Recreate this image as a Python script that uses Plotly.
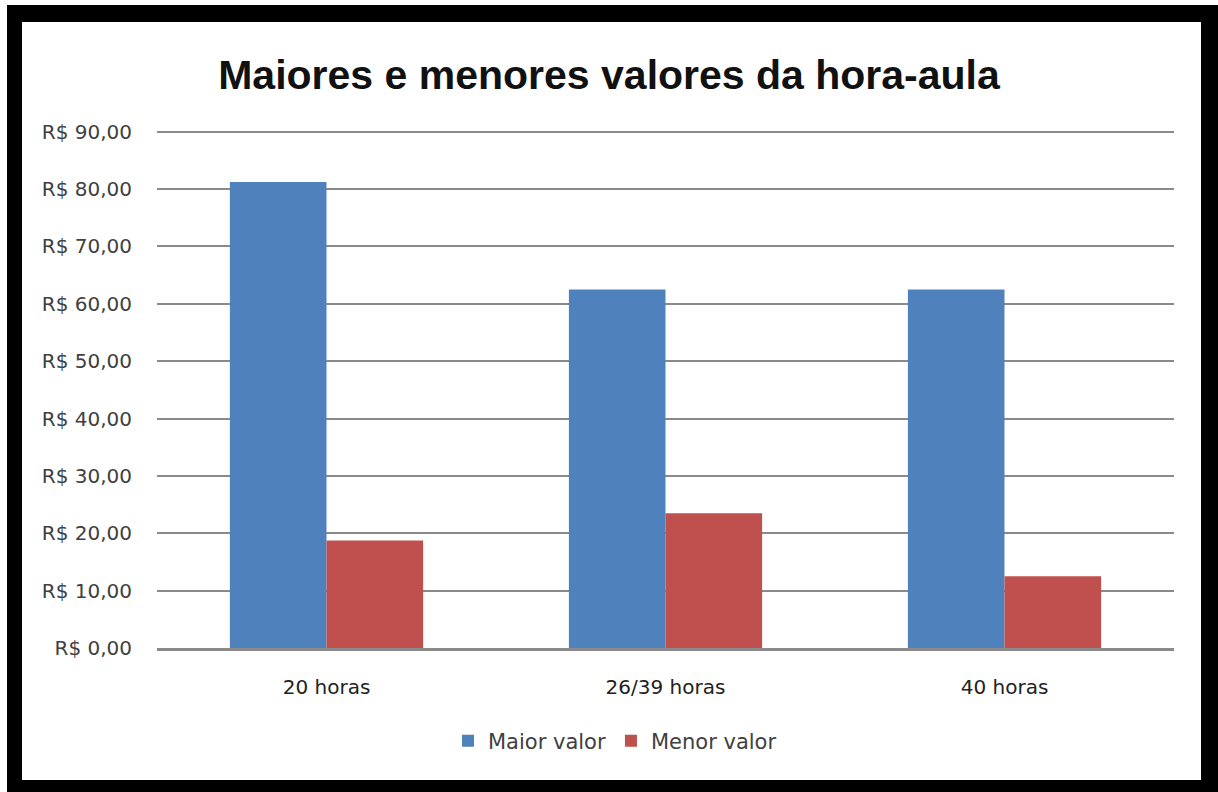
"""
Maiores e menores valores da hora-aula — barras agrupadas, estilo Excel.
"""

import plotly.graph_objects as go

categorias = ["20 horas", "26/39 horas", "40 horas"]
maior_valor = [81.25, 62.50, 62.50]
menor_valor = [18.75, 23.50, 12.50]
y_ticks = [0, 10, 20, 30, 40, 50, 60, 70, 80, 90]
y_ticktext = ["R$ 0,00", "R$ 10,00", "R$ 20,00", "R$ 30,00", "R$ 40,00",
              "R$ 50,00", "R$ 60,00", "R$ 70,00", "R$ 80,00", "R$ 90,00"]

W, H = 1218, 792
L, R, T, B = 157, 44, 126, 144


def px_x(v):
    return (v - L) / (W - L - R)


def px_y(v):
    return (H - B - v) / (H - T - B)


fig = go.Figure()
fig.add_trace(go.Bar(x=categorias, y=maior_valor, name="Maior valor",
                     marker=dict(color="#4F81BD", line=dict(width=0))))
fig.add_trace(go.Bar(x=categorias, y=menor_valor, name="Menor valor",
                     marker=dict(color="#C0504D", line=dict(width=0))))

fig.update_layout(
    width=W,
    height=H,
    margin=dict(l=L, r=R, t=T, b=B),
    barmode="group",
    bargap=0.43,
    bargroupgap=0,
    paper_bgcolor="white",
    plot_bgcolor="rgba(0,0,0,0)",
    font=dict(family="DejaVu Sans, sans-serif", color="#404040", size=20),
    title=dict(
        text="<b>Maiores e menores valores da hora-aula</b>",
        x=0.5, xref="container", xanchor="center",
        y=1 - 75 / H, yanchor="middle",
        font=dict(family="Liberation Sans, Arial, sans-serif", size=41, color="#111111"),
    ),
    legend=dict(
        orientation="h",
        x=px_x(615), xanchor="center",
        y=px_y(741), yanchor="middle",
        font=dict(size=21, color="#404040"),
        bgcolor="rgba(0,0,0,0)",
    ),
    shapes=[
        dict(type="rect", xref="paper", yref="paper", layer="below",
             x0=px_x(7), x1=px_x(1218), y0=px_y(792), y1=px_y(5),
             fillcolor="black", line=dict(width=0)),
        dict(type="rect", xref="paper", yref="paper", layer="below",
             x0=px_x(22), x1=px_x(1201), y0=px_y(780), y1=px_y(22),
             fillcolor="white", line=dict(width=0)),
    ],
)

fig.update_yaxes(
    range=[0, 91],
    tickvals=y_ticks,
    ticktext=y_ticktext,
    showgrid=True,
    gridcolor="#8a8a8a",
    gridwidth=1.5,
    zeroline=False,
    showline=False,
    ticks="",
    ticklabelstandoff=24,
    tickfont=dict(size=20, color="#404040"),
)
fig.update_xaxes(
    showline=True,
    linecolor="#8a8a8a",
    linewidth=3,
    ticks="",
    ticklabelstandoff=19,
    tickfont=dict(size=20, color="#222222"),
)

# page body has an 8px default margin; drop it so the figure sits at (0, 0)
fig.write_html(
    "out.html",
    config={"displayModeBar": False},
    post_script="document.body.style.margin='0';",
)
